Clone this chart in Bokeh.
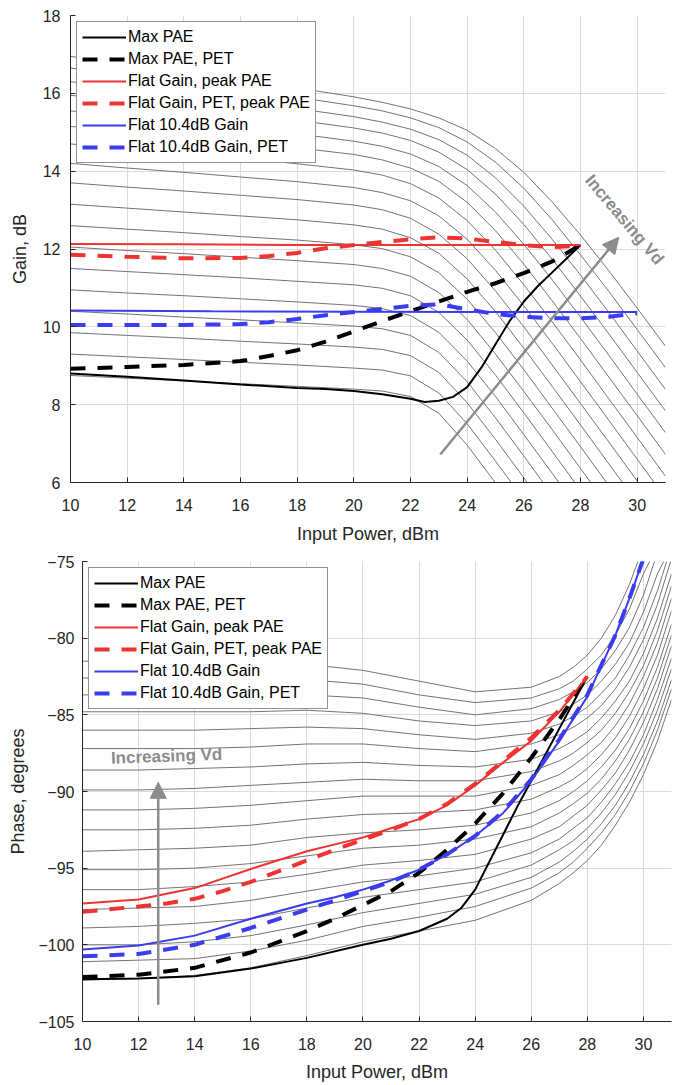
from bokeh.plotting import figure
from bokeh.layouts import column, row
from bokeh.models import Range1d, FixedTicker, Arrow, NormalHead, Label, Spacer
from bokeh.embed import file_html
from bokeh.resources import INLINE

# ======================= DATA =======================
x_ticks = [10, 12, 14, 16, 18, 20, 22, 24, 26, 28, 30]
gain_ticks = [6, 8, 10, 12, 14, 16, 18]
phase_ticks = [-105, -100, -95, -90, -85, -80, -75]
labels = ["Max PAE", "Max PAE, PET", "Flat Gain, peak PAE", "Flat Gain, PET, peak PAE",
          "Flat 10.4dB Gain", "Flat 10.4dB Gain, PET"]

# gray family (one curve per drain voltage), gain in dB vs input power in dBm
gain_gray_x = [10, 12, 14, 16, 18, 20, 21, 22, 23, 24, 25, 26, 27, 28, 29, 30, 31]
gain_gray = [
    [8.75, 8.68, 8.61, 8.54, 8.47, 8.40, 8.35, 8.21, 7.78, 6.96, 5.99, 5.00],
    [9.30, 9.23, 9.16, 9.09, 9.02, 8.94, 8.89, 8.74, 8.30, 7.51, 6.55, 5.56, 4.56],
    [9.85, 9.78, 9.71, 9.63, 9.56, 9.48, 9.42, 9.26, 8.83, 8.05, 7.11, 6.12, 5.12],
    [10.40, 10.33, 10.25, 10.18, 10.10, 10.02, 9.95, 9.78, 9.34, 8.59, 7.66, 6.68, 5.68, 4.68],
    [10.95, 10.87, 10.80, 10.72, 10.64, 10.55, 10.47, 10.29, 9.86, 9.12, 8.21, 7.23, 6.24, 5.24],
    [11.50, 11.42, 11.34, 11.26, 11.17, 11.08, 10.99, 10.80, 10.37, 9.66, 8.76, 7.79, 6.80, 5.80, 4.80],
    [12.05, 11.96, 11.88, 11.79, 11.70, 11.60, 11.50, 11.30, 10.88, 10.19, 9.30, 8.34, 7.36, 6.36, 5.36],
    [12.60, 12.51, 12.42, 12.32, 12.23, 12.11, 12.01, 11.80, 11.39, 10.71, 9.85, 8.90, 7.91, 6.92, 5.92, 4.92],
    [13.15, 13.05, 12.95, 12.85, 12.75, 12.62, 12.51, 12.29, 11.89, 11.23, 10.39, 9.45, 8.47, 7.48, 6.48, 5.48],
    [13.70, 13.59, 13.49, 13.38, 13.27, 13.13, 13.01, 12.79, 12.38, 11.75, 10.92, 10.00, 9.02, 8.03, 7.04, 6.04, 5.04],
    [14.20, 14.08, 13.97, 13.85, 13.73, 13.58, 13.45, 13.24, 12.85, 12.25, 11.45, 10.54, 9.58, 8.59, 7.60, 6.60, 5.60],
    [14.70, 14.58, 14.45, 14.33, 14.19, 14.03, 13.90, 13.68, 13.31, 12.73, 11.97, 11.08, 10.13, 9.15, 8.15, 7.16, 6.16],
    [15.15, 15.02, 14.88, 14.74, 14.60, 14.43, 14.29, 14.08, 13.74, 13.20, 12.47, 11.61, 10.67, 9.70, 8.71, 7.72, 6.72],
    [15.55, 15.40, 15.26, 15.11, 14.96, 14.77, 14.64, 14.44, 14.12, 13.63, 12.95, 12.12, 11.21, 10.25, 9.27, 8.27, 7.28],
    [15.95, 15.79, 15.63, 15.47, 15.31, 15.11, 14.98, 14.79, 14.49, 14.04, 13.41, 12.63, 11.74, 10.79, 9.82, 8.83, 7.84],
    [16.30, 16.13, 15.96, 15.78, 15.61, 15.40, 15.26, 15.08, 14.81, 14.41, 13.83, 13.10, 12.25, 11.33, 10.37, 9.38, 8.39],
    [16.65, 16.47, 16.28, 16.09, 15.90, 15.68, 15.55, 15.37, 15.12, 14.75, 14.23, 13.56, 12.75, 11.85, 10.91, 9.93, 8.95],
    [16.95, 16.75, 16.55, 16.35, 16.14, 15.91, 15.77, 15.60, 15.37, 15.05, 14.58, 13.97, 13.21, 12.36, 11.44, 10.48, 9.50],
]

# gray family, phase in degrees vs input power in dBm
phase_gray_x = [10, 12, 14, 16, 18, 20, 22, 24, 26, 27, 27.5, 28, 28.5, 29, 29.5, 30, 30.5, 31]
phase_gray = [
    [-102.3, -102.2, -102.0, -101.5, -100.7, -99.8, -99.1, -98.4, -97.1, -96.0, -95.3, -94.5, -93.5, -92.2, -90.7, -88.9, -86.7, -84.0],
    [-101.1, -101.0, -100.9, -100.4, -99.7, -98.8, -98.2, -97.5, -96.3, -95.3, -94.6, -93.7, -92.7, -91.5, -90.0, -88.2, -86.0, -83.3],
    [-100.0, -100.0, -99.8, -99.4, -98.7, -97.9, -97.3, -96.7, -95.6, -94.6, -93.9, -93.1, -92.1, -90.9, -89.4, -87.6, -85.4, -82.7],
    [-98.9, -98.8, -98.6, -98.3, -97.6, -96.9, -96.4, -95.9, -94.8, -93.8, -93.2, -92.4, -91.4, -90.2, -88.7, -86.9, -84.7, -82.0],
    [-97.7, -97.6, -97.5, -97.1, -96.5, -95.9, -95.5, -95.0, -94.0, -93.1, -92.4, -91.7, -90.7, -89.5, -88.1, -86.3, -84.0, -81.3],
    [-96.4, -96.4, -96.2, -95.9, -95.4, -94.8, -94.5, -94.1, -93.1, -92.3, -91.6, -90.9, -89.9, -88.8, -87.3, -85.5, -83.3, -80.5],
    [-95.1, -95.1, -95.0, -94.7, -94.2, -93.7, -93.5, -93.1, -92.3, -91.4, -90.8, -90.1, -89.2, -88.0, -86.6, -84.8, -82.6, -79.8],
    [-93.9, -93.8, -93.7, -93.5, -93.0, -92.7, -92.5, -92.2, -91.4, -90.6, -90.0, -89.3, -88.4, -87.3, -85.9, -84.1, -81.9, -79.1],
    [-92.5, -92.5, -92.4, -92.2, -91.8, -91.5, -91.4, -91.2, -90.5, -89.7, -89.2, -88.5, -87.6, -86.5, -85.1, -83.3, -81.1, -78.2],
    [-91.2, -91.2, -91.1, -90.9, -90.6, -90.3, -90.3, -90.3, -89.6, -88.9, -88.3, -87.6, -86.8, -85.7, -84.3, -82.5, -80.3, -77.4],
    [-89.9, -89.9, -89.8, -89.6, -89.4, -89.2, -89.3, -89.3, -88.7, -88.0, -87.5, -86.8, -86.0, -84.9, -83.5, -81.8, -79.5, -76.6],
    [-88.6, -88.6, -88.5, -88.4, -88.2, -88.1, -88.3, -88.4, -87.9, -87.2, -86.7, -86.1, -85.2, -84.1, -82.8, -81.0, -78.7, -75.8],
    [-87.2, -87.2, -87.2, -87.1, -86.9, -86.9, -87.2, -87.4, -86.9, -86.3, -85.8, -85.2, -84.4, -83.3, -81.9, -80.1, -77.8, -74.8],
    [-86.0, -86.0, -86.0, -85.9, -85.8, -85.9, -86.3, -86.6, -86.2, -85.6, -85.1, -84.5, -83.6, -82.6, -81.1, -79.3, -76.9, -74.0],
    [-84.8, -84.8, -84.8, -84.8, -84.7, -84.9, -85.4, -85.7, -85.4, -84.8, -84.3, -83.7, -82.8, -81.7, -80.3, -78.3, -75.8, -74.0],
    [-83.7, -83.7, -83.7, -83.7, -83.7, -83.9, -84.5, -85.0, -84.6, -84.0, -83.5, -82.9, -82.0, -80.8, -79.3, -77.2, -74.4, -74.0],
    [-82.6, -82.6, -82.6, -82.6, -82.7, -83.0, -83.7, -84.2, -83.9, -83.3, -82.8, -82.0, -81.1, -79.8, -78.1, -75.8, -74.0],
    [-81.5, -81.5, -81.5, -81.6, -81.7, -82.1, -82.8, -83.5, -83.2, -82.5, -81.9, -81.1, -80.0, -78.5, -76.5, -74.0],
]

# highlighted gain traces
pae_x = [10, 12, 14, 16, 18, 19, 20, 21, 22, 22.5, 23, 23.5, 24, 24.5, 25, 25.5, 26, 26.5, 27, 27.5, 28]
pae_g = [8.8, 8.72, 8.62, 8.52, 8.43, 8.4, 8.35, 8.27, 8.15, 8.07, 8.1, 8.2, 8.45, 8.95, 9.55, 10.15, 10.65, 11.05, 11.4, 11.75, 12.1]
pae_pet_x = [10, 12, 14, 16, 17, 18, 19, 20, 21, 22, 23, 24, 25, 26, 27, 28]
pae_pet_g = [8.92, 8.97, 9.02, 9.12, 9.25, 9.4, 9.62, 9.88, 10.15, 10.4, 10.65, 10.9, 11.12, 11.38, 11.68, 12.1]
flat_x = [10, 14, 18, 22, 26, 28]
flat_g = [12.13, 12.12, 12.1, 12.1, 12.1, 12.1]
flat_pet_x = [10, 12, 14, 16, 17, 18, 19, 20, 21, 22, 23, 24, 25, 26, 27, 28]
flat_pet_g = [11.85, 11.8, 11.76, 11.77, 11.82, 11.9, 12.02, 12.1, 12.18, 12.25, 12.3, 12.27, 12.18, 12.1, 12.05, 12.08]
g104_x = [10, 15, 20, 25, 30]
g104_g = [10.42, 10.4, 10.39, 10.38, 10.38]
g104_pet_x = [10, 12, 14, 16, 17, 18, 19, 20, 21, 22, 23, 24, 25, 26, 27, 28, 29, 30]
g104_pet_g = [10.05, 10.05, 10.05, 10.07, 10.12, 10.2, 10.3, 10.38, 10.46, 10.54, 10.58, 10.45, 10.33, 10.26, 10.22, 10.22, 10.26, 10.35]

# highlighted phase traces
ph_pae_x = [10, 12, 14, 16, 18, 20, 21, 22, 23, 23.5, 24, 24.5, 25, 25.5, 26, 26.5, 27, 27.5, 28]
ph_pae = [-102.25, -102.2, -102.05, -101.55, -100.85, -100.0, -99.6, -99.1, -98.3, -97.6, -96.4, -94.6, -92.8, -91.0, -89.3, -87.6, -85.9, -84.2, -82.5]
ph_pae_pet_x = [10, 12, 14, 16, 17, 18, 19, 20, 21, 22, 23, 24, 25, 26, 27, 28]
ph_pae_pet = [-102.1, -101.95, -101.5, -100.5, -99.8, -99.1, -98.3, -97.4, -96.5, -95.3, -93.8, -92.1, -90.1, -87.8, -85.3, -82.5]
ph_flat_x = [10, 12, 14, 16, 18, 19, 20, 21, 22, 23, 24, 25, 26, 27, 28]
ph_flat = [-97.3, -97.05, -96.3, -95.05, -93.9, -93.45, -93.0, -92.4, -91.8, -90.9, -89.6, -88.1, -86.7, -84.8, -82.5]
ph_flat_pet_x = [10, 12, 13, 14, 15, 16, 17, 18, 19, 20, 21, 22, 23, 24, 25, 26, 27, 28]
ph_flat_pet = [-97.85, -97.5, -97.3, -97.0, -96.5, -95.9, -95.2, -94.5, -93.8, -93.15, -92.5, -91.8, -90.8, -89.5, -88.0, -86.5, -84.7, -82.5]
ph_g104_x = [10, 12, 14, 16, 18, 19, 20, 21, 22, 23, 24, 25, 26, 27, 28, 29, 29.5, 30]
ph_g104 = [-100.3, -100.05, -99.4, -98.3, -97.3, -96.9, -96.4, -95.8, -95.1, -94.1, -92.9, -91.4, -89.3, -86.7, -83.8, -79.8, -77.4, -74.8]
ph_g104_pet = [-100.75, -100.6, -100.0, -98.9, -97.7, -97.1, -96.5, -95.9, -95.1, -94.1, -92.9, -91.3, -89.2, -86.6, -83.7, -79.8, -77.4, -74.8]

# ======================= STYLE =======================
FONT = "Liberation Sans"
INK = "#262626"
GRID = "#dcdcdc"
GRAY = "#747474"
RED = "#ee3333"
BLUE = "#3b3bef"
ARROW = "#8c8c8c"
DASH = "15 12"


def make(ylo, yhi, yticks, ylabel, fw, fh, bl, br, bt, bb, ystand, ylabstand, xstand, xlabstand):
    p = figure(frame_width=fw, frame_height=fh, x_range=Range1d(10, 31), y_range=Range1d(ylo, yhi),
               output_backend="svg", toolbar_location=None,
               min_border_left=bl, min_border_right=br, min_border_top=bt, min_border_bottom=bb)
    p.outline_line_color = None
    p.background_fill_color = "white"
    p.border_fill_color = "white"
    p.xaxis.ticker = FixedTicker(ticks=x_ticks)
    p.yaxis.ticker = FixedTicker(ticks=yticks)
    for ax in (p.xaxis, p.yaxis):
        ax.major_tick_in = 5
        ax.major_tick_out = 0
        ax.minor_tick_in = 0
        ax.minor_tick_out = 0
        ax.axis_line_color = INK
        ax.major_tick_line_color = INK
        ax.major_label_text_font = FONT
        ax.major_label_text_font_size = "16px"
        ax.major_label_text_color = INK
        ax.axis_label_text_font = FONT
        ax.axis_label_text_font_size = "18px"
        ax.axis_label_text_font_style = "normal"
        ax.axis_label_text_color = INK
    p.xaxis.axis_label = "Input Power, dBm"
    p.yaxis.axis_label = ylabel
    p.xaxis.major_label_standoff = xstand
    p.xaxis.axis_label_standoff = xlabstand
    p.yaxis.major_label_standoff = ystand
    p.yaxis.axis_label_standoff = ylabstand
    p.grid.grid_line_color = GRID
    p.grid.grid_line_width = 1
    return p


def style_legend(p):
    lg = p.legend[0]
    lg.location = "top_left"
    lg.margin = 6
    lg.padding = 5
    lg.spacing = 2
    lg.glyph_width = 44
    lg.glyph_height = 20
    lg.label_height = 20
    lg.label_standoff = 2
    lg.label_text_font = FONT
    lg.label_text_font_size = "16px"
    lg.label_text_color = "black"
    lg.border_line_color = INK
    lg.border_line_width = 1
    lg.background_fill_alpha = 1


def gray_family(p, xs, curves):
    p.multi_line([xs[:len(c)] for c in curves], curves, line_color=GRAY, line_width=1)


# ---------------- gain figure ----------------
p1 = make(6, 18, gain_ticks, "Gain, dB", 595, 467, 70, 15, 15, 60, 10, 10, 16, 10)
gray_family(p1, gain_gray_x, gain_gray)
p1.line(pae_x, pae_g, line_color="black", line_width=2, legend_label=labels[0])
p1.line(pae_pet_x, pae_pet_g, line_color="black", line_width=4, line_dash=DASH, legend_label=labels[1])
p1.line(flat_x, flat_g, line_color=RED, line_width=2, legend_label=labels[2])
p1.line(flat_pet_x, flat_pet_g, line_color=RED, line_width=4, line_dash=DASH, legend_label=labels[3])
p1.line(g104_x, g104_g, line_color=BLUE, line_width=2, legend_label=labels[4])
p1.line(g104_pet_x, g104_pet_g, line_color=BLUE, line_width=4, line_dash=DASH, legend_label=labels[5])
style_legend(p1)
p1.add_layout(Arrow(end=NormalHead(size=16, fill_color=ARROW, line_color=ARROW),
                    x_start=23.05, y_start=6.72, x_end=29.35, y_end=12.3,
                    line_color=ARROW, line_width=2.5))
p1.add_layout(Label(x=29.55, y=12.75, text="Increasing Vd", angle=-0.87, text_align="center",
                    text_baseline="middle", text_font=FONT, text_font_size="17px",
                    text_font_style="bold", text_color=ARROW))

# ---------------- phase figure ----------------
p2 = make(-105, -75, phase_ticks, "Phase, degrees", 589, 460, 78, 3, 15, 56, 8, 7, 16, 9)
gray_family(p2, phase_gray_x, phase_gray)
p2.line(ph_pae_x, ph_pae, line_color="black", line_width=2, legend_label=labels[0])
p2.line(ph_pae_pet_x, ph_pae_pet, line_color="black", line_width=4, line_dash=DASH, legend_label=labels[1])
p2.line(ph_flat_x, ph_flat, line_color=RED, line_width=2, legend_label=labels[2])
p2.line(ph_flat_pet_x, ph_flat_pet, line_color=RED, line_width=4, line_dash=DASH, legend_label=labels[3])
p2.line(ph_g104_x, ph_g104, line_color=BLUE, line_width=2, legend_label=labels[4])
p2.line(ph_g104_x, ph_g104_pet, line_color=BLUE, line_width=4, line_dash=DASH, legend_label=labels[5])
style_legend(p2)
p2.add_layout(Arrow(end=NormalHead(size=16, fill_color=ARROW, line_color=ARROW),
                    x_start=12.7, y_start=-103.9, x_end=12.7, y_end=-89.4,
                    line_color=ARROW, line_width=2.5))
p2.add_layout(Label(x=13.0, y=-87.7, text="Increasing Vd", angle=0.035, text_align="center",
                    text_baseline="middle", text_font=FONT, text_font_size="17px",
                    text_font_style="bold", text_color=ARROW))

layout = column(p1, row(Spacer(width=4, height=10), p2))
open("out.html", "w").write(file_html(layout, INLINE))
